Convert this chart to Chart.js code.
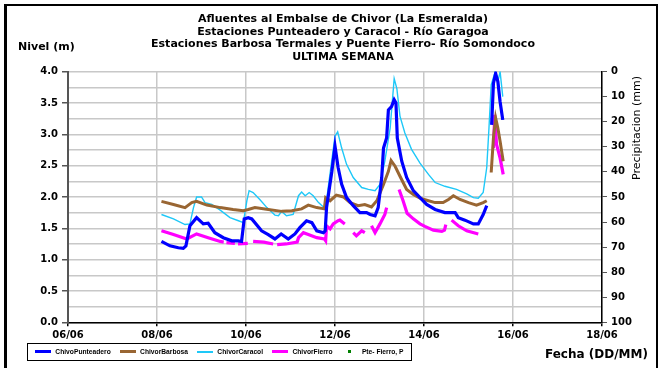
<!DOCTYPE html>
<html>
<head>
<meta charset="utf-8">
<script src="https://cdn.jsdelivr.net/npm/chart.js@4.4.1/dist/chart.umd.min.js"></script>
<style>
  html, body { margin: 0; padding: 0; background: #fff; }
  #wrap { position: relative; width: 660px; height: 368px; overflow: hidden; }
  #frame { position: absolute; left: 4px; top: 4px; width: 649px; height: 380px; border: 2px solid #000; border-left-width: 3px; }
  #chart { position: absolute; left: 0; top: 0; }
</style>
</head>
<body>
<div id="wrap">
  <div id="frame"></div>
  <canvas id="chart" width="660" height="368"></canvas>
</div>
<script>
// Titles
const titulo = [
  "Afluentes al Embalse de Chivor (La Esmeralda)",
  "Estaciones Punteadero y Caracol - Río Garagoa",
  "Estaciones Barbosa Termales y Puente Fierro- Río Somondoco",
  "ULTIMA SEMANA",
];
const mes = "06";

// Series (x = day of month, y = level in m; null = gap)
const punteaderoDias = [8.10, 8.29, 8.48, 8.59, 8.65, 8.74, 8.89, 9.04, 9.15, 9.30, 9.49, 9.68, 9.83, 9.90, 9.96, 10.05, 10.13, 10.35, 10.50, 10.65, 10.79, 10.95, 11.10, 11.21, 11.36, 11.48, 11.59, 11.74, 11.78, 11.81, 11.93, 12.00, 12.07, 12.15, 12.26, 12.41, 12.56, 12.71, 12.79, 12.90, 12.97, 13.05, 13.09, 13.16, 13.20, 13.27, 13.33, 13.37, 13.40, 13.50, 13.61, 13.76, 13.91, 14.06, 14.25, 14.47, 14.70, 14.77, 14.92, 15.11, 15.22, 15.33, 15.41, 15.47, 15.52, 15.56, 15.61, 15.66, 15.71, 15.77];
const punteaderoNivel = [1.29, 1.22, 1.19, 1.18, 1.22, 1.54, 1.67, 1.57, 1.58, 1.43, 1.35, 1.30, 1.30, 1.29, 1.65, 1.67, 1.65, 1.46, 1.40, 1.33, 1.41, 1.33, 1.41, 1.51, 1.62, 1.59, 1.46, 1.43, 1.46, 1.83, 2.41, 2.81, 2.47, 2.20, 1.99, 1.86, 1.75, 1.75, 1.72, 1.70, 1.83, 2.31, 2.78, 2.94, 3.39, 3.44, 3.55, 3.50, 2.94, 2.57, 2.31, 2.10, 1.99, 1.88, 1.80, 1.75, 1.75, 1.67, 1.63, 1.57, 1.57, 1.72, 1.86, null, 3.15, 3.81, 3.97, 3.84, 3.52, 3.23];

const barbosaDias = [8.10, 8.37, 8.63, 8.78, 8.89, 9.12, 9.42, 9.71, 9.94, 10.05, 10.20, 10.50, 10.80, 11.03, 11.25, 11.40, 11.59, 11.76, 11.79, 11.89, 12.03, 12.19, 12.34, 12.52, 12.67, 12.82, 12.94, 13.09, 13.20, 13.26, 13.35, 13.46, 13.61, 13.76, 13.91, 14.10, 14.25, 14.43, 14.55, 14.66, 14.81, 15.00, 15.18, 15.33, 15.41, 15.46, 15.51, 15.56, 15.61, 15.66, 15.71, 15.78];
const barbosaNivel = [1.93, 1.88, 1.83, 1.91, 1.93, 1.87, 1.83, 1.80, 1.78, 1.80, 1.83, 1.80, 1.77, 1.78, 1.81, 1.87, 1.83, 1.81, 1.99, 1.94, 2.03, 2.00, 1.91, 1.86, 1.88, 1.84, 1.94, 2.20, 2.41, 2.58, 2.49, 2.33, 2.12, 2.04, 1.98, 1.94, 1.91, 1.91, 1.96, 2.02, 1.96, 1.91, 1.87, 1.91, 1.94, null, 2.39, 2.94, 3.26, 3.10, 2.89, 2.57];

const caracolDias = [8.10, 8.37, 8.63, 8.74, 8.82, 8.89, 9.00, 9.08, 9.23, 9.42, 9.64, 9.83, 9.94, 10.02, 10.07, 10.16, 10.31, 10.47, 10.65, 10.73, 10.80, 10.91, 11.06, 11.18, 11.25, 11.33, 11.42, 11.51, 11.63, 11.74, 11.78, 11.81, 11.89, 12.00, 12.06, 12.15, 12.26, 12.41, 12.60, 12.75, 12.90, 13.01, 13.12, 13.24, 13.33, 13.39, 13.46, 13.57, 13.72, 13.91, 14.10, 14.25, 14.47, 14.73, 14.96, 15.11, 15.22, 15.33, 15.41, 15.46, 15.51, 15.60, 15.66, 15.71, 15.77];
const caracolNivel = [1.72, 1.65, 1.56, 1.57, 1.83, 2.00, 2.00, 1.91, 1.88, 1.79, 1.67, 1.62, 1.59, 1.94, 2.10, 2.07, 1.96, 1.83, 1.71, 1.70, 1.77, 1.70, 1.72, 2.02, 2.08, 2.02, 2.07, 2.02, 1.91, 1.84, 1.83, 1.94, 2.38, 2.97, 3.04, 2.78, 2.52, 2.31, 2.15, 2.12, 2.10, 2.20, 2.57, 3.10, 3.89, 3.73, 3.29, 3.02, 2.76, 2.54, 2.36, 2.23, 2.17, 2.12, 2.05, 1.99, 1.98, 2.07, 2.47, 3.10, 3.79, 4.00, 3.84, 4.00, 3.60];

const fierroDias = [8.10, 8.37, 8.67, 8.89, 9.15, 9.42, 9.50, 9.53, 9.56, 9.75, 9.79, 9.82, 10.04, 10.10, 10.16, 10.40, 10.61, 10.66, 10.70, 10.90, 11.15, 11.18, 11.29, 11.40, 11.59, 11.76, 11.79, 11.81, 11.89, 11.96, 12.07, 12.11, 12.22, 12.30, 12.41, 12.48, 12.60, 12.67, 12.72, 12.82, 12.90, 13.01, 13.12, 13.16, 13.30, 13.44, 13.53, 13.62, 13.76, 13.91, 14.02, 14.21, 14.40, 14.46, 14.49, 14.55, 14.62, 14.77, 14.96, 15.22, 15.40, 15.56, 15.59, 15.63, 15.71, 15.78];
const fierroNivel = [1.46, 1.40, 1.33, 1.41, 1.35, 1.29, 1.28, null, 1.27, 1.26, null, 1.25, 1.26, null, 1.29, 1.28, 1.25, null, 1.24, 1.25, 1.28, 1.35, 1.43, 1.40, 1.35, 1.33, 1.30, 1.54, 1.49, 1.57, 1.62, 1.63, 1.57, null, 1.43, 1.38, 1.46, 1.43, null, 1.54, 1.43, 1.57, 1.72, 1.83, null, 2.12, 1.94, 1.74, 1.65, 1.57, 1.53, 1.47, 1.45, 1.47, 1.56, null, 1.63, 1.54, 1.46, 1.41, null, 2.78, 3.31, 2.84, 2.62, 2.36];

// Precipitation (right axis, mm) - no readings shown in the week
const precipitacionDias = [];
const precipitacionMm = [];

const toPoints = (dias, valores) => dias.map((x, i) => ({ x, y: valores[i] }));

// small swatch used as legend marker
function swatch(color, w, h) {
  const c = document.createElement("canvas");
  c.width = w;
  c.height = h;
  const g = c.getContext("2d");
  g.fillStyle = color;
  g.fillRect(0, 0, w, h);
  return c;
}

const fuente = "'DejaVu Sans', sans-serif";
const fuenteLeyenda = "Arial, 'Liberation Sans', sans-serif";

// legend frame + free axis captions
const marcoLeyenda = {
  id: "marcoLeyenda",
  afterDraw(chart) {
    const ctx = chart.ctx;
    const boxes = chart.legend.legendHitBoxes;
    const first = boxes[0];
    const last = boxes[boxes.length - 1];
    ctx.save();
    ctx.strokeStyle = "#000";
    ctx.lineWidth = 1;
    ctx.strokeRect(
      Math.round(first.left - 7) + 0.5,
      Math.round(first.top - 5) + 0.5,
      Math.round(last.left + last.width - first.left + 14),
      Math.round(first.height + 10),
    );
    ctx.fillStyle = "#000";
    ctx.textBaseline = "middle";
    ctx.textAlign = "left";
    ctx.font = "bold 11px " + fuente;
    ctx.fillText("Nivel (m)", 18, 47);
    ctx.font = "bold 12px " + fuente;
    ctx.fillText("Fecha (DD/MM)", 545, 355);
    ctx.translate(637, 128);
    ctx.rotate(-Math.PI / 2);
    ctx.textAlign = "center";
    ctx.font = "11px " + fuente;
    ctx.fillText("Precipitacion (mm)", 0, 0);
    ctx.restore();
  },
};

new Chart(document.getElementById("chart"), {
  type: "line",
  data: {
    datasets: [
      { label: "ChivoPunteadero", data: toPoints(punteaderoDias, punteaderoNivel), borderColor: "#0000ff", borderWidth: 3.2 },
      { label: "ChivorBarbosa", data: toPoints(barbosaDias, barbosaNivel), borderColor: "#996633", borderWidth: 3 },
      { label: "ChivorCaracol", data: toPoints(caracolDias, caracolNivel), borderColor: "#1ec8f8", borderWidth: 1.4 },
      { label: "ChivorFierro", data: toPoints(fierroDias, fierroNivel), borderColor: "#ff00ff", borderWidth: 3.2 },
      {
        label: "Pte- Fierro, P",
        data: toPoints(precipitacionDias, precipitacionMm),
        borderColor: "#008000",
        backgroundColor: "#008000",
        showLine: false,
        pointRadius: 1.5,
        pointStyle: "rect",
        yAxisID: "y2",
      },
    ],
  },
  options: {
    responsive: false,
    animation: false,
    devicePixelRatio: 1,
    spanGaps: false,
    elements: {
      point: { radius: 0 },
      line: { tension: 0, fill: false },
    },
    layout: { padding: { left: 26, right: 0, top: 4, bottom: 3 } },
    plugins: {
      title: {
        display: true,
        text: titulo,
        color: "#000",
        font: { family: fuente, size: 11, weight: "bold", lineHeight: 1.15 },
        padding: { top: 9, bottom: 8 },
      },
      legend: {
        position: "bottom",
        align: "start",
        labels: {
          usePointStyle: true,
          pointStyleWidth: 18,
          padding: 8,
          color: "#000",
          font: { family: fuenteLeyenda, size: 6.7, weight: "bold" },
          generateLabels: (chart) =>
            chart.data.datasets.map((ds, i) => ({
              text: ds.label,
              pointStyle:
                ds.showLine === false
                  ? swatch(ds.borderColor, 3, 3)
                  : swatch(ds.borderColor, 16, Math.max(2, Math.round(ds.borderWidth))),
              fillStyle: ds.borderColor,
              strokeStyle: ds.borderColor,
              lineWidth: 0,
              fontColor: "#000",
              hidden: false,
              datasetIndex: i,
            })),
        },
      },
      tooltip: { enabled: false },
    },
    scales: {
      x: {
        type: "linear",
        min: 6,
        max: 18,
        afterFit: (scale) => (scale.height = 18),
        ticks: {
          stepSize: 2,
          autoSkip: false,
          maxRotation: 0,
          padding: 3,
          color: "#000",
          font: { family: fuente, size: 10, weight: "bold" },
          callback: (v) => String(v).padStart(2, "0") + "/" + mes,
        },
        grid: { color: "#c8c8c8", lineWidth: 1.5, tickLength: 4, tickColor: "#000" },
        border: { color: "#000", width: 1.5 },
      },
      y: {
        min: 0,
        max: 4,
        afterFit: (scale) => (scale.width = 42),
        ticks: {
          stepSize: 0.25,
          padding: 4,
          color: "#000",
          font: { family: fuente, size: 10, weight: "bold" },
          callback: (v) => (v % 0.5 === 0 ? v.toFixed(1) : ""),
        },
        grid: {
          color: "#c8c8c8",
          lineWidth: 1.5,
          tickLength: 6,
          tickColor: (ctx) => (ctx.tick && ctx.tick.value % 0.5 === 0 ? "#555" : "rgba(0,0,0,0)"),
        },
        border: { color: "#555", width: 2 },
      },
      y2: {
        position: "right",
        min: 0,
        max: 100,
        reverse: true,
        afterFit: (scale) => (scale.width = 58),
        ticks: {
          stepSize: 10,
          padding: 4,
          color: "#000",
          font: { family: fuente, size: 10, weight: "bold" },
        },
        grid: { drawOnChartArea: false, tickLength: 5, tickColor: "#555" },
        border: { color: "#000", width: 1.5 },
      },
    },
  },
  plugins: [marcoLeyenda],
});
</script>
</body>
</html>
